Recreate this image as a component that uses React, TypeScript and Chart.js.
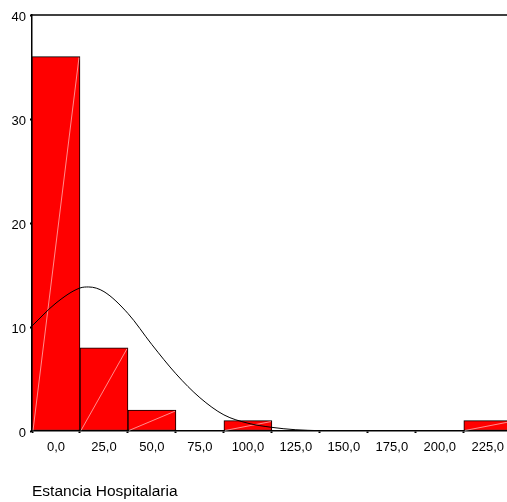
import React, { useEffect, useRef } from 'react';
import { Chart, registerables } from 'chart.js';

Chart.register(...registerables);

// Histogram bins (centre of each 25-wide bin) and frequencies
const binCenters = [0, 25, 50, 75, 100, 125, 150, 175, 200, 225];
const binCounts = [36, 8, 2, 0, 1, 0, 0, 0, 0, 1];

// Normal curve
const curveX = [-12.5, 0, 12.5, 17, 25, 37.5, 50, 62.5, 75, 87.5, 100, 112.5, 125, 137.5];
const curveY = [10.1, 12.3, 13.75, 13.85, 13.4, 11.3, 8.3, 5.5, 3.2, 1.55, 0.75, 0.35, 0.12, 0.03];

const xTickValues = [0, 25, 50, 75, 100, 125, 150, 175, 200, 225];
const yTickValues = [0, 10, 20, 30, 40];
const xTitle = 'Estancia Hospitalaria';

const FONT = "'Liberation Sans', Arial, sans-serif";

const histPlugin = {
  id: 'histDecor',
  afterDatasetDraw(chart: any, args: any) {
    if (args.index !== 0) return;
    const { ctx, chartArea } = chart;
    ctx.save();
    ctx.beginPath();
    ctx.rect(chartArea.left, chartArea.top, chartArea.right - chartArea.left, chartArea.bottom - chartArea.top);
    ctx.clip();
    ctx.strokeStyle = 'rgba(255,255,255,0.55)';
    ctx.lineWidth = 1;
    args.meta.data.forEach((el: any, i: number) => {
      if (!binCounts[i]) return;
      const p = el.getProps(['x', 'y', 'base', 'width'], true);
      ctx.beginPath();
      ctx.moveTo(p.x - p.width / 2 + 1, p.base);
      ctx.lineTo(p.x + p.width / 2 - 1, p.y + 1);
      ctx.stroke();
    });
    ctx.restore();
  },
  afterDraw(chart: any) {
    const { ctx, chartArea } = chart;
    ctx.save();
    ctx.strokeStyle = '#000';
    ctx.lineWidth = 1.5;
    ctx.beginPath();
    ctx.moveTo(chartArea.left, chartArea.top);
    ctx.lineTo(chartArea.right, chartArea.top);
    ctx.stroke();
    ctx.restore();
  },
};

export default function App() {
  const ref = useRef<HTMLCanvasElement | null>(null);

  useEffect(() => {
    if (!ref.current) return;
    const chart = new Chart(ref.current, {
      type: 'bar',
      data: {
        datasets: [
          {
            type: 'bar',
            data: binCenters.map((x, i) => ({ x, y: binCounts[i] ? binCounts[i] : null })),
            backgroundColor: '#ff0000',
            borderColor: '#000000',
            borderWidth: 1,
            borderSkipped: false,
            barPercentage: 1,
            categoryPercentage: 1,
            grouped: false,
            order: 1,
          } as any,
          {
            type: 'line',
            data: curveX.map((x, i) => ({ x, y: curveY[i] })),
            borderColor: '#000000',
            borderWidth: 1,
            pointRadius: 0,
            cubicInterpolationMode: 'monotone',
            fill: false,
            order: 0,
          } as any,
        ],
      },
      options: {
        animation: false,
        responsive: false,
        layout: { padding: { top: 15, right: 0, left: 0, bottom: 0 } },
        plugins: { legend: { display: false }, tooltip: { enabled: false } },
        scales: {
          x: {
            type: 'linear',
            min: -12.5,
            max: 235,
            offset: false,
            afterFit: (s: any) => { s.height = 71; s.paddingRight = 0; s.paddingLeft = 0; },
            afterBuildTicks: (s: any) => { s.ticks = xTickValues.map((v) => ({ value: v })); },
            grid: { display: true, drawOnChartArea: false, drawTicks: true, tickLength: 2, tickWidth: 2, color: '#000' },
            border: { display: true, color: '#000', width: 1.5 },
            ticks: {
              color: '#000',
              font: { family: FONT, size: 13 },
              padding: 7,
              maxRotation: 0,
              autoSkip: false,
              callback: (v: any) => Number(v).toFixed(1).replace('.', ','),
            },
            title: {
              display: true,
              text: xTitle,
              align: 'start',
              color: '#000',
              font: { family: FONT, size: 15.5 },
              padding: { top: 0, bottom: 1 },
            },
          },
          y: {
            type: 'linear',
            min: 0,
            max: 40,
            afterFit: (s: any) => { s.width = 32; s.paddingTop = 0; s.paddingBottom = 0; },
            afterBuildTicks: (s: any) => { s.ticks = yTickValues.map((v) => ({ value: v })); },
            grid: { display: true, drawOnChartArea: false, drawTicks: true, tickLength: 2, tickWidth: 2, color: '#000' },
            border: { display: true, color: '#000', width: 1.5 },
            ticks: {
              color: '#000',
              font: { family: FONT, size: 13 },
              padding: 4,
              labelOffset: 2,
              callback: (v: any) => String(v),
            },
          },
        },
      },
      plugins: [histPlugin],
    } as any);
    return () => chart.destroy();
  }, []);

  return (
    <div style={{ position: 'absolute', left: 0, top: 0, width: 507, height: 502, background: '#fff' }}>
      <canvas ref={ref} width={507} height={502} style={{ display: 'block' }} />
    </div>
  );
}
